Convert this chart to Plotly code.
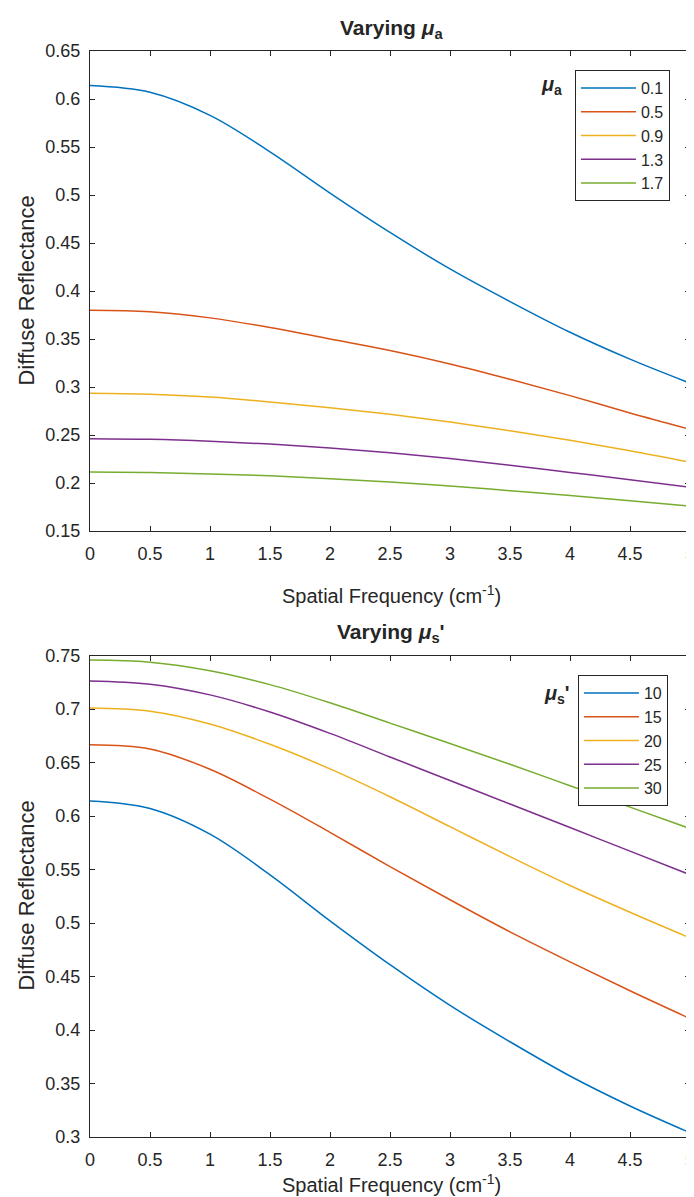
import plotly.graph_objects as go

# ---------------- data ----------------
freq = [0, 0.5, 1.0, 1.5, 2.0, 2.5, 3.0, 3.5, 4.0, 4.5, 5.0]

mua_labels = ["0.1", "0.5", "0.9", "1.3", "1.7"]
mua_01 = [0.614, 0.607, 0.583, 0.545, 0.502, 0.461, 0.423, 0.389, 0.357, 0.329, 0.304]
mua_05 = [0.380, 0.3785, 0.372, 0.362, 0.350, 0.338, 0.324, 0.308, 0.291, 0.273, 0.256]
mua_09 = [0.2935, 0.2925, 0.2895, 0.2845, 0.2785, 0.2715, 0.2635, 0.2545, 0.2445, 0.2335, 0.2215]
mua_13 = [0.2462, 0.2455, 0.2435, 0.2405, 0.2365, 0.2315, 0.2255, 0.2185, 0.2110, 0.2035, 0.1955]
mua_17 = [0.2115, 0.211, 0.2095, 0.2075, 0.2045, 0.201, 0.197, 0.192, 0.187, 0.1815, 0.176]

mus_labels = ["10", "15", "20", "25", "30"]
mus_10 = [0.614, 0.607, 0.583, 0.545, 0.502, 0.461, 0.423, 0.389, 0.357, 0.329, 0.304]
mus_15 = [0.6667, 0.6627, 0.6437, 0.6157, 0.5847, 0.5527, 0.5217, 0.4917, 0.4637, 0.4367, 0.4107]
mus_20 = [0.701, 0.698, 0.686, 0.667, 0.644, 0.618, 0.590, 0.562, 0.535, 0.510, 0.486]
mus_25 = [0.7262, 0.7232, 0.7132, 0.6972, 0.6772, 0.6552, 0.6332, 0.6112, 0.5892, 0.5672, 0.5452]
mus_30 = [0.7458, 0.7438, 0.7358, 0.7228, 0.7058, 0.6868, 0.6678, 0.6483, 0.6283, 0.6083, 0.5883]

x_ticks = [0, 0.5, 1, 1.5, 2, 2.5, 3, 3.5, 4, 4.5, 5]
top_yticks = [0.15, 0.2, 0.25, 0.3, 0.35, 0.4, 0.45, 0.5, 0.55, 0.6, 0.65]
bot_yticks = [0.3, 0.35, 0.4, 0.45, 0.5, 0.55, 0.6, 0.65, 0.7, 0.75]

colors = ["#0072BD", "#D95319", "#EDB120", "#7E2F8E", "#77AC30"]

# ---------------- layout geometry ----------------
W, H = 694, 1197
L, R, T, B = 82, 7, 43, 68
PW, PH = W - L - R, H - T - B
top_lo = (H - B - 523) / PH
bot_hi = (H - B - 647.5) / PH


def px(x):
    return (x - L) / PW


def py(y):
    return (H - B - y) / PH


FONT = "Arial, Liberation Sans, Helvetica, sans-serif"
TXT = "#262626"

fig = go.Figure()

for vals, lab, c in zip([mua_01, mua_05, mua_09, mua_13, mua_17], mua_labels, colors):
    fig.add_trace(go.Scatter(x=freq, y=vals, mode="lines", name=lab,
                             line=dict(color=c, width=1.5, shape="spline", smoothing=1.0),
                             xaxis="x", yaxis="y", legend="legend"))

for vals, lab, c in zip([mus_10, mus_15, mus_20, mus_25, mus_30], mus_labels, colors):
    fig.add_trace(go.Scatter(x=freq, y=vals, mode="lines", name=lab,
                             line=dict(color=c, width=1.5, shape="spline", smoothing=1.0),
                             xaxis="x2", yaxis="y2", legend="legend2"))

axis_common = dict(showline=True, linecolor=TXT, linewidth=1, mirror="ticks",
                   ticks="inside", ticklen=5, tickcolor=TXT, showgrid=False,
                   zeroline=False, ticklabeloverflow="allow",
                   tickfont=dict(family=FONT, size=18, color=TXT))

fig.update_layout(
    width=W, height=H,
    margin=dict(l=L, r=R, t=T, b=B),
    paper_bgcolor="white", plot_bgcolor="white",
    font=dict(family=FONT, color=TXT),
    xaxis=dict(domain=[0, 1], range=[0, 5], tickvals=x_ticks, anchor="y",
               ticklabelstandoff=6, **axis_common),
    yaxis=dict(domain=[top_lo, 1], range=[0.15, 0.65], tickvals=top_yticks, anchor="x",
               ticklabelstandoff=5, **axis_common),
    xaxis2=dict(domain=[0, 1], range=[0, 5], tickvals=x_ticks, anchor="y2",
                ticklabelstandoff=6, **axis_common),
    yaxis2=dict(domain=[0, bot_hi], range=[0.3, 0.75], tickvals=bot_yticks, anchor="x2",
                ticklabelstandoff=5, **axis_common),
    legend=dict(x=px(571), y=py(62), xanchor="left", yanchor="top",
                bordercolor=TXT, borderwidth=1, bgcolor="white",
                font=dict(family=FONT, size=16, color=TXT), itemwidth=55),
    legend2=dict(x=px(574), y=py(667), xanchor="left", yanchor="top",
                 bordercolor=TXT, borderwidth=1, bgcolor="white",
                 font=dict(family=FONT, size=16, color=TXT), itemwidth=55),
    showlegend=True,
)

ann = [
    dict(text="<b>Varying <i>μ</i><sub>a</sub></b>", x=px(386), y=py(21), size=21),
    dict(text="<b>Varying <i>μ</i><sub>s</sub>'</b>", x=px(386), y=py(625), size=21),
    dict(text="Spatial Frequency (cm<sup>-1</sup>)", x=px(386), y=py(586), size=20),
    dict(text="Spatial Frequency (cm<sup>-1</sup>)", x=px(386), y=py(1175), size=20),
    dict(text="<b><i>μ</i><sub>a</sub></b>", x=px(547), y=py(78), size=20),
    dict(text="<b><i>μ</i><sub>s</sub>'</b>", x=px(553), y=py(686), size=20),
]
for a in ann:
    fig.add_annotation(text=a["text"], x=a["x"], y=a["y"], xref="paper", yref="paper",
                       xanchor="center", yanchor="middle", showarrow=False,
                       font=dict(family=FONT, size=a["size"], color=TXT))

for yc in [283, 888]:
    fig.add_annotation(text="Diffuse Reflectance", x=px(17), y=py(yc), xref="paper", yref="paper",
                       xanchor="center", yanchor="middle", showarrow=False, textangle=-90,
                       font=dict(family=FONT, size=22, color=TXT))

fig.write_html("out.html")
